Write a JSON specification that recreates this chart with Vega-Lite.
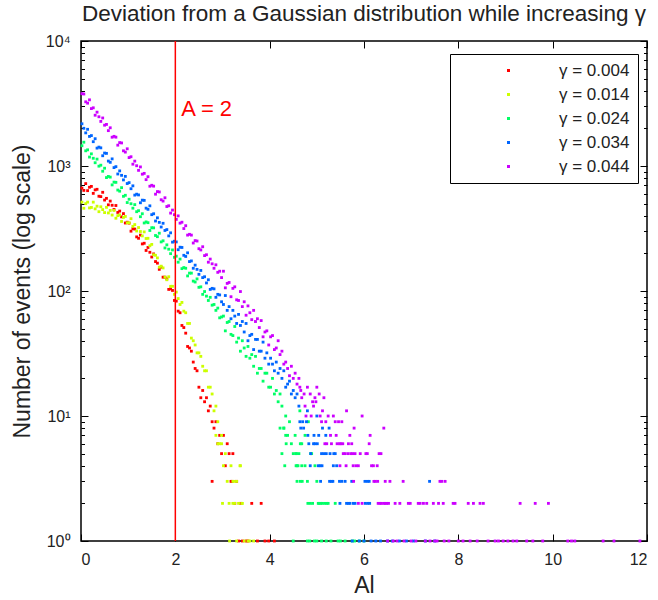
{
"$schema": "https://vega.github.io/schema/vega-lite/v6.json",
"width": 566, "height": 500,
"autosize": {"type": "none"},
"padding": {"left": 81, "top": 41, "right": 11, "bottom": 59},
"background": "white",
"config": {
  "font": "Liberation Sans",
  "view": {"stroke": "black", "strokeWidth": 1.5},
  "axis": {"grid": false, "domain": false, "tickColor": "black", "tickWidth": 1, "labelColor": "#222", "titleColor": "#222", "labelFontSize": 16, "titleFontSize": 23, "titleFontWeight": "normal", "labelFont": "Liberation Sans", "titleFont": "Liberation Sans"}
},
"title": {"text": "Deviation from a Gaussian distribution while increasing γ", "fontSize": 22.5, "fontWeight": "normal", "color": "#222", "anchor": "middle", "frame": "group", "baseline": "alphabetic", "offset": -10},
"layer": [
{
"data": {"values": [
{"x":0.02,"a":666,"b":514,"c":1453,"d":2176,"e":3791},
{"x":0.06,"a":638,"b":459,"c":1550,"d":2003,"e":3766},
{"x":0.10,"a":723,"b":500,"c":1323,"d":1841,"e":3261},
{"x":0.14,"a":635,"b":514,"c":1347,"d":1966,"e":3182},
{"x":0.18,"a":676,"b":462,"c":1179,"d":1724,"e":3383},
{"x":0.22,"a":687,"b":466,"c":1251,"d":1751,"e":2878},
{"x":0.26,"a":604,"b":514,"c":1153,"d":1565,"e":2921},
{"x":0.30,"a":644,"b":454,"c":1062,"d":1653,"e":2548},
{"x":0.34,"a":651,"b":477,"c":1135,"d":1390,"e":2696},
{"x":0.38,"a":573,"b":431,"c":997,"d":1416,"e":2477},
{"x":0.42,"a":569,"b":472,"c":1015,"d":1397,"e":2273},
{"x":0.46,"a":616,"b":448,"c":908,"d":1208,"e":2422},
{"x":0.50,"a":534,"b":424,"c":960,"d":1269,"e":2121},
{"x":0.54,"a":551,"b":467,"c":808,"d":1262,"e":2151},
{"x":0.58,"a":489,"b":421,"c":825,"d":1095,"e":1918},
{"x":0.62,"a":524,"b":441,"c":815,"d":1070,"e":2022},
{"x":0.66,"a":485,"b":405,"c":706,"d":1140,"e":1699},
{"x":0.70,"a":449,"b":441,"c":743,"d":971,"e":1727},
{"x":0.74,"a":483,"b":382,"c":740,"d":988,"e":1701},
{"x":0.78,"a":425,"b":401,"c":642,"d":863,"e":1468},
{"x":0.82,"a":436,"b":406,"c":629,"d":914,"e":1539},
{"x":0.86,"a":392,"b":360,"c":671,"d":842,"e":1529},
{"x":0.90,"a":416,"b":388,"c":572,"d":774,"e":1323},
{"x":0.94,"a":350,"b":395,"c":583,"d":826,"e":1292},
{"x":0.98,"a":355,"b":351,"c":510,"d":724,"e":1373},
{"x":1.02,"a":349,"b":351,"c":542,"d":736,"e":1168},
{"x":1.06,"a":301,"b":379,"c":499,"d":658,"e":1186},
{"x":1.10,"a":315,"b":329,"c":460,"d":694,"e":1034},
{"x":1.14,"a":313,"b":340,"c":491,"d":585,"e":1094},
{"x":1.18,"a":271,"b":302,"c":431,"d":595,"e":1005},
{"x":1.22,"a":264,"b":322,"c":439,"d":587,"e":923},
{"x":1.26,"a":280,"b":299,"c":393,"d":508,"e":983},
{"x":1.30,"a":238,"b":276,"c":415,"d":533,"e":860},
{"x":1.34,"a":241,"b":297,"c":350,"d":531,"e":873},
{"x":1.38,"a":211,"b":263,"c":357,"d":460,"e":778},
{"x":1.42,"a":223,"b":264,"c":352,"d":450,"e":821},
{"x":1.46,"a":204,"b":230,"c":305,"d":480,"e":689},
{"x":1.50,"a":187,"b":236,"c":321,"d":408,"e":701},
{"x":1.54,"a":198,"b":195,"c":320,"d":415,"e":690},
{"x":1.58,"a":172,"b":193,"c":278,"d":363,"e":595},
{"x":1.62,"a":167,"b":184,"c":272,"d":385,"e":624},
{"x":1.66,"a":149,"b":155,"c":290,"d":354,"e":620},
{"x":1.70,"a":155,"b":158,"c":247,"d":325,"e":537},
{"x":1.74,"a":129,"b":153,"c":252,"d":348,"e":524},
{"x":1.78,"a":129,"b":129,"c":221,"d":305,"e":557},
{"x":1.82,"a":125,"b":123,"c":234,"d":310,"e":474},
{"x":1.86,"a":103,"b":130,"c":216,"d":276,"e":481},
{"x":1.90,"a":104,"b":109,"c":199,"d":292,"e":420},
{"x":1.94,"a":101,"b":109,"c":213,"d":246,"e":444},
{"x":1.98,"a":84,"b":94,"c":186,"d":250,"e":408},
{"x":2.02,"a":83,"b":98,"c":190,"d":247,"e":374},
{"x":2.06,"a":69,"b":87,"c":170,"d":214,"e":399},
{"x":2.10,"a":67,"b":78,"c":180,"d":224,"e":349},
{"x":2.14,"a":53,"b":81,"c":151,"d":223,"e":355},
{"x":2.18,"a":51,"b":69,"c":154,"d":193,"e":316},
{"x":2.22,"a":46,"b":67,"c":152,"d":189,"e":333},
{"x":2.26,"a":36,"b":55,"c":132,"d":202,"e":280},
{"x":2.30,"a":35,"b":55,"c":139,"d":172,"e":284},
{"x":2.34,"a":33,"b":42,"c":139,"d":174,"e":280},
{"x":2.38,"a":27,"b":40,"c":120,"d":152,"e":242},
{"x":2.42,"a":24,"b":37,"c":118,"d":161,"e":253},
{"x":2.46,"a":23,"b":32,"c":125,"d":149,"e":251},
{"x":2.50,"a":17,"b":32,"c":107,"d":136,"e":218},
{"x":2.54,"a":14,"b":30,"c":108,"d":146,"e":213},
{"x":2.58,"a":16,"b":25,"c":94,"d":128,"e":226},
{"x":2.62,"a":13,"b":23,"c":99,"d":130,"e":192},
{"x":2.66,"a":14,"b":23,"c":91,"d":116,"e":195},
{"x":2.70,"a":11,"b":17,"c":84,"d":123,"e":170},
{"x":2.74,"a":12,"b":17,"c":89,"d":103,"e":180},
{"x":2.78,"a":9,"b":15,"c":77,"d":105,"e":165},
{"x":2.82,"a":8,"b":11,"c":78,"d":104,"e":152},
{"x":2.86,"a":9,"b":12,"c":70,"d":89,"e":162},
{"x":2.90,"a":6,"b":9,"c":73,"d":94,"e":141},
{"x":2.94,"a":7,"b":6,"c":61,"d":93,"e":144},
{"x":2.98,"a":5,"b":7,"c":62,"d":82,"e":128},
{"x":3.02,"a":7,"b":4,"c":63,"d":78,"e":144},
{"x":3.06,"a":4,"b":5,"c":48,"d":92,"e":106},
{"x":3.10,"a":6,"b":3,"c":56,"d":70,"e":115},
{"x":3.14,"a":5,"b":2,"c":57,"d":75,"e":117},
{"x":3.18,"a":3,"b":4,"c":45,"d":60,"e":90},
{"x":3.22,"a":5,"b":3,"c":44,"d":70,"e":105},
{"x":3.26,"a":2,"b":2,"c":52,"d":63,"e":108},
{"x":3.30,"a":3,"b":3,"c":39,"d":55,"e":85},
{"x":3.34,"a":1,"b":2,"c":42,"d":65,"e":84},
{"x":3.38,"a":2,"b":4,"c":33,"d":53,"e":99},
{"x":3.42,"a":1,"b":2,"c":40,"d":57,"e":75},
{"x":3.46,"b":1,"c":35,"d":47,"e":82},
{"x":3.50,"a":1,"c":30,"d":55,"e":64},
{"x":3.54,"a":1,"b":1,"c":36,"d":40,"e":76},
{"x":3.58,"b":1,"c":29,"d":44,"e":67},
{"x":3.62,"a":2,"c":31,"d":45,"e":59},
{"x":3.66,"b":1,"c":25,"d":34,"e":70},
{"x":3.70,"c":30,"d":41,"e":57},
{"x":3.74,"a":1,"c":22,"d":41,"e":60},
{"x":3.78,"c":24,"d":33,"e":51},
{"x":3.82,"a":2,"c":24,"d":33,"e":58},
{"x":3.86,"c":19,"d":39,"e":43},
{"x":3.90,"a":1,"c":22,"d":29,"e":47},
{"x":3.94,"c":22,"d":32,"e":48},
{"x":3.98,"a":1,"c":17,"d":26,"e":37},
{"x":4.02,"c":17,"d":29,"e":43},
{"x":4.06,"c":20,"d":26,"e":44},
{"x":4.10,"a":1,"c":15,"d":23,"e":34},
{"x":4.14,"c":16,"d":27,"e":35},
{"x":4.18,"c":13,"d":22,"e":40},
{"x":4.22,"c":15,"d":24,"e":31},
{"x":4.26,"c":12,"d":20,"e":33},
{"x":4.30,"c":8,"d":23,"e":26},
{"x":4.34,"c":10,"d":17,"e":27},
{"x":4.38,"c":7,"d":18,"e":24},
{"x":4.42,"c":9,"d":19,"e":21},
{"x":4.46,"c":6,"d":15,"e":25},
{"x":4.50,"c":5,"d":16,"e":20},
{"x":4.54,"c":7,"d":14,"e":22},
{"x":4.58,"c":4,"d":15,"e":18},
{"x":4.62,"c":5,"d":12,"e":20},
{"x":2.78,"a":3},{"x":3.2,"a":3},
{"x":2.9,"b":6},{"x":2.86,"b":7},{"x":2.98,"b":6},{"x":3.0,"b":2},{"x":3.41,"b":2},{"x":3.37,"b":4},{"x":3.22,"b":2},{"x":3.25,"b":3},{"x":3.15,"b":1},{"x":3.3,"b":1},
{"x":4.64,"c":11},{"x":4.82,"c":9},{"x":4.22,"c":8},{"x":4.3,"c":8},{"x":4.34,"c":7},{"x":4.75,"c":7},{"x":4.35,"c":6},{"x":4.65,"c":6},{"x":4.68,"c":6},
{"x":4.26,"c":5},{"x":4.55,"c":5},{"x":4.57,"c":5},{"x":4.87,"c":5},{"x":4.89,"c":5},
{"x":4.32,"c":4},{"x":4.56,"c":4},{"x":4.6,"c":4},{"x":4.68,"c":4},{"x":4.75,"c":4},{"x":4.96,"c":4},
{"x":4.58,"c":3},{"x":4.65,"c":3},{"x":4.69,"c":3},{"x":4.8,"c":3},{"x":5.0,"c":3},
{"x":4.81,"c":2},{"x":4.86,"c":2},{"x":4.91,"c":2},{"x":5.03,"c":2},{"x":5.05,"c":2},{"x":5.08,"c":2},{"x":5.12,"c":2},{"x":5.17,"c":2},{"x":5.21,"c":2},{"x":5.24,"c":2},{"x":5.39,"c":2},
{"x":4.5,"c":1},{"x":4.8,"c":1},{"x":4.85,"c":1},{"x":4.95,"c":1},{"x":5.0,"c":1},{"x":5.1,"c":1},{"x":5.2,"c":1},{"x":5.3,"c":1},{"x":5.45,"c":1},{"x":5.5,"c":1},{"x":5.6,"c":1},{"x":5.75,"c":1},{"x":5.8,"c":1},{"x":5.9,"c":1},{"x":6.0,"c":1},
{"x":4.8,"d":11},{"x":5.0,"d":10},{"x":4.64,"d":9},{"x":4.7,"d":9},{"x":4.78,"d":9},{"x":4.66,"d":8},{"x":4.72,"d":8},{"x":5.12,"d":8},{"x":5.26,"d":8},
{"x":4.81,"d":7},{"x":4.94,"d":7},{"x":5.04,"d":7},{"x":5.19,"d":7},{"x":4.83,"d":6},{"x":4.93,"d":6},{"x":4.96,"d":6},{"x":5.01,"d":6},
{"x":4.87,"d":5},{"x":5.1,"d":5},{"x":5.15,"d":5},{"x":5.2,"d":5},{"x":5.28,"d":5},{"x":5.36,"d":5},{"x":5.39,"d":5},
{"x":4.86,"d":4},{"x":5.03,"d":4},{"x":5.07,"d":4},{"x":5.11,"d":4},{"x":5.35,"d":4},{"x":5.42,"d":4},
{"x":5.08,"d":3},{"x":5.27,"d":3},{"x":5.31,"d":3},{"x":5.34,"d":3},{"x":5.48,"d":3},{"x":5.53,"d":3},{"x":5.6,"d":3},{"x":5.74,"d":3},{"x":6.02,"d":3},{"x":6.07,"d":3},{"x":6.11,"d":3},{"x":7.39,"d":3},
{"x":5.49,"d":2},{"x":5.63,"d":2},{"x":5.67,"d":2},{"x":5.7,"d":2},{"x":5.77,"d":2},{"x":5.81,"d":2},{"x":6.03,"d":2},{"x":6.08,"d":2},{"x":6.12,"d":2},
{"x":5.75,"d":1},{"x":5.9,"d":1},{"x":6.0,"d":1},{"x":6.15,"d":1},{"x":6.25,"d":1},{"x":6.35,"d":1},{"x":6.5,"d":1},{"x":6.6,"d":1},{"x":6.75,"d":1},{"x":6.9,"d":1},{"x":7.05,"d":1},{"x":7.3,"d":1},{"x":7.5,"d":1},
{"x":4.64,"e":17},{"x":4.8,"e":17},{"x":5.0,"e":17},{"x":4.66,"e":16},{"x":4.73,"e":15},{"x":4.86,"e":15},{"x":5.05,"e":15},{"x":4.68,"e":14},{"x":4.96,"e":14},{"x":5.15,"e":14},
{"x":4.91,"e":13},{"x":4.98,"e":13},{"x":4.75,"e":12},{"x":4.93,"e":12},{"x":5.12,"e":11},{"x":5.63,"e":11},
{"x":4.77,"e":10},{"x":4.88,"e":10},{"x":5.07,"e":10},{"x":5.24,"e":10},{"x":5.35,"e":10},{"x":5.96,"e":10},
{"x":5.1,"e":9},{"x":5.19,"e":9},{"x":5.39,"e":9},{"x":5.46,"e":9},{"x":5.53,"e":9},{"x":5.79,"e":8},{"x":6.42,"e":8},
{"x":5.29,"e":7},{"x":5.41,"e":7},{"x":5.7,"e":7},{"x":6.13,"e":7},
{"x":5.17,"e":6},{"x":5.21,"e":6},{"x":5.31,"e":6},{"x":5.43,"e":6},{"x":5.48,"e":6},{"x":5.51,"e":6},{"x":5.55,"e":6},{"x":5.67,"e":6},{"x":5.74,"e":6},{"x":6.11,"e":6},
{"x":5.56,"e":5},{"x":5.6,"e":5},{"x":5.66,"e":5},{"x":5.72,"e":5},{"x":5.76,"e":5},{"x":5.81,"e":5},{"x":5.92,"e":5},{"x":6.04,"e":5},{"x":6.07,"e":5},{"x":6.32,"e":5},{"x":6.36,"e":5},
{"x":5.49,"e":4},{"x":5.62,"e":4},{"x":5.77,"e":4},{"x":5.83,"e":4},{"x":5.88,"e":4},{"x":6.16,"e":4},{"x":6.2,"e":4},{"x":6.28,"e":4},
{"x":5.78,"e":3},{"x":6.21,"e":3},{"x":6.24,"e":3},{"x":6.29,"e":3},{"x":6.45,"e":3},{"x":6.55,"e":3},{"x":6.83,"e":3},{"x":7.61,"e":3},{"x":7.65,"e":3},{"x":7.72,"e":3},
{"x":5.88,"e":2},{"x":5.96,"e":2},{"x":6.3,"e":2},{"x":6.34,"e":2},{"x":6.37,"e":2},{"x":6.42,"e":2},{"x":6.45,"e":2},{"x":6.48,"e":2},{"x":6.52,"e":2},{"x":6.66,"e":2},{"x":6.76,"e":2},{"x":6.94,"e":2},{"x":6.98,"e":2},{"x":7.15,"e":2},{"x":7.19,"e":2},{"x":7.26,"e":2},{"x":7.33,"e":2},{"x":7.47,"e":2},{"x":7.58,"e":2},{"x":7.68,"e":2},{"x":7.89,"e":2},{"x":7.93,"e":2},{"x":8.21,"e":2},{"x":8.32,"e":2},{"x":8.46,"e":2},{"x":8.53,"e":2},{"x":9.31,"e":2},{"x":9.63,"e":2},{"x":9.91,"e":2},
{"x":6.5,"e":1},{"x":6.62,"e":1},{"x":6.7,"e":1},{"x":6.85,"e":1},{"x":7.0,"e":1},{"x":7.1,"e":1},{"x":7.3,"e":1},{"x":7.4,"e":1},{"x":7.5,"e":1},{"x":7.55,"e":1},{"x":7.7,"e":1},{"x":7.8,"e":1},{"x":8.0,"e":1},{"x":8.1,"e":1},{"x":8.25,"e":1},{"x":8.4,"e":1},{"x":8.63,"e":1},{"x":8.78,"e":1},{"x":8.85,"e":1},{"x":8.95,"e":1},{"x":9.05,"e":1},{"x":9.16,"e":1},{"x":9.24,"e":1},{"x":9.45,"e":1},{"x":9.58,"e":1},{"x":9.79,"e":1},{"x":10.32,"e":1},{"x":10.4,"e":1},{"x":10.47,"e":1},{"x":11.07,"e":1},{"x":11.3,"e":1},{"x":11.85,"e":1}
]},
"transform": [{"fold": ["a","b","c","d","e"], "as": ["k","v"]}, {"filter": "isValid(datum.v)"}],
"mark": {"type": "square", "size": 8, "opacity": 1},
"encoding": {
  "x": {"field": "x", "type": "quantitative", "scale": {"domain": [0, 12], "nice": false, "zero": false},
        "axis": {"orient": "bottom", "values": [0,2,4,6,8,10,12], "tickSize": -7, "labelPadding": 17, "title": "Al", "titlePadding": 7}},
  "y": {"field": "v", "type": "quantitative", "scale": {"type": "log", "domain": [1, 10000], "nice": false},
        "axis": {"orient": "left", "values": [1,2,3,4,5,6,7,8,9,10,20,30,40,50,60,70,80,90,100,200,300,400,500,600,700,800,900,1000,2000,3000,4000,5000,6000,7000,8000,9000,10000],
                 "labelOverlap": false, "labelFlush": false, "labelPadding": 18,
                 "labelExpr": "abs(log(datum.value)/LN10 - round(log(datum.value)/LN10)) < 0.001 ? '10' + ['⁰','¹','²','³','⁴'][round(log(datum.value)/LN10)] : ''",
                 "tickSize": {"condition": {"test": "abs(log(datum.value)/LN10 - round(log(datum.value)/LN10)) < 0.001", "value": -7}, "value": -3.5},
                 "title": "Number of events (log scale)", "titlePadding": 11}},
  "color": {"field": "k", "type": "nominal",
            "scale": {"domain": ["a","b","c","d","e"], "range": ["#ff0000","#ccff00","#00ff66","#0066ff","#cc00ff"]},
            "legend": {"orient": "none", "legendX": 369, "legendY": 13, "title": null,
                       "labelExpr": "datum.label == 'a' ? 'γ = 0.004' : datum.label == 'b' ? 'γ = 0.014' : datum.label == 'c' ? 'γ = 0.024' : datum.label == 'd' ? 'γ = 0.034' : 'γ = 0.044'",
                       "symbolType": "square", "symbolSize": 9, "symbolOffset": 42, "labelOffset": 42,
                       "labelFontSize": 17, "labelColor": "#222", "labelFont": "Liberation Sans",
                       "strokeColor": "black", "fillColor": "white", "padding": 8, "rowPadding": 6}},
  "order": {"field": "k"}
}
},
{
"data": {"values": [{"x": 2, "y": 1, "y2": 10000}]},
"mark": {"type": "rule", "color": "#ff0000", "strokeWidth": 1.5},
"encoding": {
  "x": {"field": "x", "type": "quantitative", "axis": {"orient": "top", "values": [0,2,4,6,8,10,12], "labels": false, "tickSize": -7, "title": null}},
  "y": {"field": "y", "type": "quantitative",
        "axis": {"orient": "right", "values": [1,2,3,4,5,6,7,8,9,10,20,30,40,50,60,70,80,90,100,200,300,400,500,600,700,800,900,1000,2000,3000,4000,5000,6000,7000,8000,9000,10000],
                 "labels": false, "title": null,
                 "tickSize": {"condition": {"test": "abs(log(datum.value)/LN10 - round(log(datum.value)/LN10)) < 0.001", "value": -7}, "value": -3.5}}},
  "y2": {"field": "y2"}
}
},
{
"data": {"values": [{"x": 2, "y": 2500, "t": "A = 2"}]},
"mark": {"type": "text", "color": "#ff0000", "fontSize": 22, "align": "left", "baseline": "alphabetic", "dx": 6, "font": "Liberation Sans"},
"encoding": {
  "x": {"field": "x", "type": "quantitative", "axis": null},
  "y": {"field": "y", "type": "quantitative", "axis": null},
  "text": {"field": "t"}
}
}
]
}
